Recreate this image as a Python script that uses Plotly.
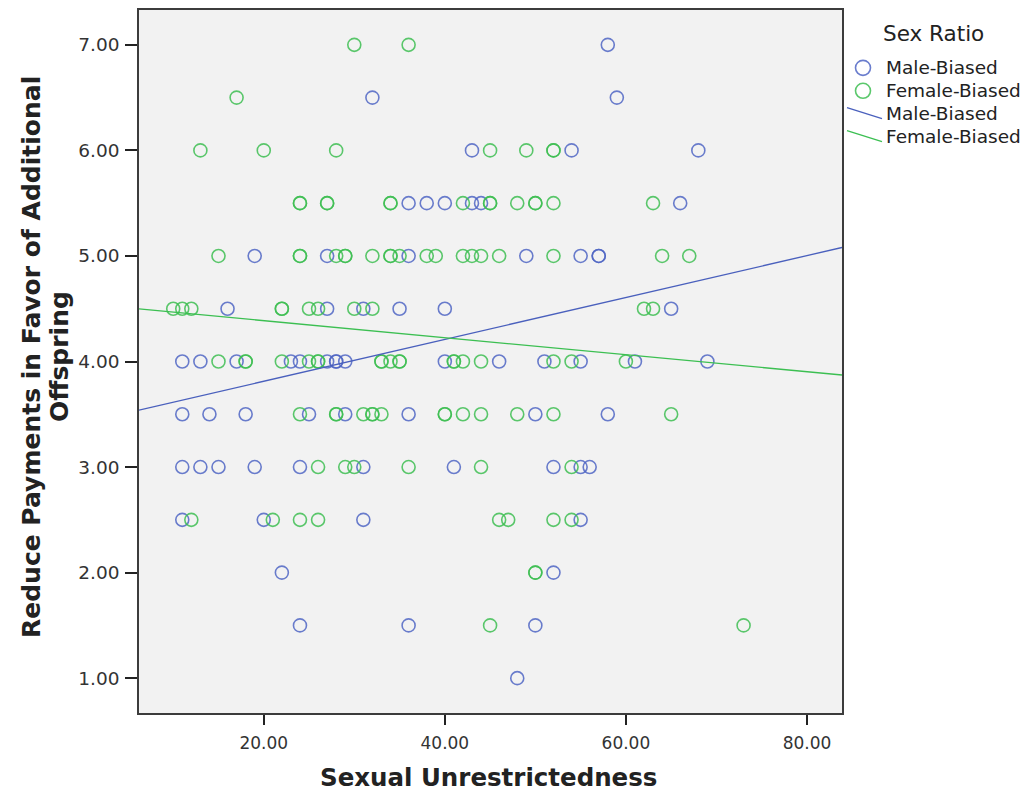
import plotly.graph_objects as go

# ---- data -------------------------------------------------------------
# Male-biased condition: (sexual unrestrictedness, reduce payments score)
male_x = [58,
          32, 59,
          43, 54, 68,
          36, 38, 40, 43, 44, 66,
          19, 27, 36, 49, 55, 57, 57,
          16, 27, 31, 35, 40, 65,
          11, 13, 17, 23, 24, 27, 28, 28, 29, 40, 46, 51, 55, 61, 69,
          11, 14, 18, 25, 29, 36, 50, 58,
          11, 13, 15, 19, 24, 31, 41, 52, 55, 56,
          11, 20, 31, 55,
          22, 52,
          24, 36, 50,
          48]
male_y = [7.0,
          6.5, 6.5,
          6.0, 6.0, 6.0,
          5.5, 5.5, 5.5, 5.5, 5.5, 5.5,
          5.0, 5.0, 5.0, 5.0, 5.0, 5.0, 5.0,
          4.5, 4.5, 4.5, 4.5, 4.5, 4.5,
          4.0, 4.0, 4.0, 4.0, 4.0, 4.0, 4.0, 4.0, 4.0, 4.0, 4.0, 4.0, 4.0, 4.0, 4.0,
          3.5, 3.5, 3.5, 3.5, 3.5, 3.5, 3.5, 3.5,
          3.0, 3.0, 3.0, 3.0, 3.0, 3.0, 3.0, 3.0, 3.0, 3.0,
          2.5, 2.5, 2.5, 2.5,
          2.0, 2.0,
          1.5, 1.5, 1.5,
          1.0]

# Female-biased condition
female_x = [30, 36,
            17,
            13, 20, 28, 45, 49, 52, 52,
            24, 24, 27, 27, 34, 34, 42, 45, 45, 48, 50, 50, 52, 63,
            15, 24, 24, 28, 29, 29, 32, 34, 34, 35, 38, 39, 42, 43, 44, 46, 52, 64, 67,
            10, 11, 12, 22, 22, 25, 26, 30, 32, 62, 63,
            15, 18, 18, 22, 25, 26, 26, 33, 33, 34, 35, 35, 41, 41, 42, 44, 52, 54, 60,
            24, 28, 28, 31, 32, 32, 33, 40, 40, 42, 44, 48, 52, 65,
            26, 29, 30, 36, 44, 54,
            12, 21, 24, 26, 46, 47, 52, 54,
            50, 50,
            45, 73]
female_y = [7.0, 7.0,
            6.5,
            6.0, 6.0, 6.0, 6.0, 6.0, 6.0, 6.0,
            5.5, 5.5, 5.5, 5.5, 5.5, 5.5, 5.5, 5.5, 5.5, 5.5, 5.5, 5.5, 5.5, 5.5,
            5.0, 5.0, 5.0, 5.0, 5.0, 5.0, 5.0, 5.0, 5.0, 5.0, 5.0, 5.0, 5.0, 5.0, 5.0, 5.0, 5.0, 5.0, 5.0,
            4.5, 4.5, 4.5, 4.5, 4.5, 4.5, 4.5, 4.5, 4.5, 4.5, 4.5,
            4.0, 4.0, 4.0, 4.0, 4.0, 4.0, 4.0, 4.0, 4.0, 4.0, 4.0, 4.0, 4.0, 4.0, 4.0, 4.0, 4.0, 4.0, 4.0,
            3.5, 3.5, 3.5, 3.5, 3.5, 3.5, 3.5, 3.5, 3.5, 3.5, 3.5, 3.5, 3.5, 3.5,
            3.0, 3.0, 3.0, 3.0, 3.0, 3.0,
            2.5, 2.5, 2.5, 2.5, 2.5, 2.5, 2.5, 2.5,
            2.0, 2.0,
            1.5, 1.5]

# Linear fit lines (intercept, slope) for each group
male_fit = (3.416, 0.01984)
female_fit = (4.548, -0.00806)

x_ticks = [20, 40, 60, 80]
y_ticks = [1, 2, 3, 4, 5, 6, 7]
group_names = ["Male-Biased", "Female-Biased"]
legend_title = "Sex Ratio"
x_title = "Sexual Unrestrictedness"
y_title_lines = ["Reduce Payments in Favor of Additional", "Offspring"]

# ---- styling ----------------------------------------------------------
W, H = 1029, 796
L, R, T, B = 139, 842, 8, 713          # plot area in pixels
X_RANGE = [6.22, 83.87]
Y_RANGE = [0.67, 7.33]

BLUE_PT = "rgba(80,102,196,0.85)"
GREEN_PT = "rgba(62,190,82,0.85)"
BLUE_LN = "#4a60bd"
GREEN_LN = "#3cbf52"
TEXT = "#222"


def px(xp, yp):
    """Pixel position -> paper coordinates."""
    return (xp - L) / (R - L), (B - yp) / (B - T)


fig = go.Figure()

for xs, ys, col, name in [(male_x, male_y, BLUE_PT, group_names[0]),
                          (female_x, female_y, GREEN_PT, group_names[1])]:
    fig.add_trace(go.Scatter(
        x=xs, y=ys, mode="markers", name=name, showlegend=False,
        marker=dict(symbol="circle-open", size=13,
                    line=dict(width=1.6, color=col), color=col),
    ))

for (a, b), col, name in [(male_fit, BLUE_LN, group_names[0]),
                          (female_fit, GREEN_LN, group_names[1])]:
    fig.add_trace(go.Scatter(
        x=X_RANGE, y=[a + b * X_RANGE[0], a + b * X_RANGE[1]],
        mode="lines", name=name, showlegend=False,
        line=dict(color=col, width=1.3),
    ))

axis_common = dict(
    showgrid=False, zeroline=False,
    showline=True, mirror=True, linecolor="#3c3c3c", linewidth=1.6,
    ticks="outside", tickwidth=1.5, tickcolor="#222",
)

fig.update_layout(
    width=W, height=H,
    margin=dict(l=L, r=W - R, t=T, b=H - B),
    paper_bgcolor="white", plot_bgcolor="#f2f2f2",
    showlegend=False,
    xaxis=dict(range=X_RANGE, tickvals=x_ticks,
               ticktext=[f"{v:.2f}" for v in x_ticks], ticklen=10,
               tickfont=dict(family="DejaVu Sans", size=17, color="#333"),
               ticklabelstandoff=4, **axis_common),
    yaxis=dict(range=Y_RANGE, tickvals=y_ticks,
               ticktext=[f"{v:.2f}" for v in y_ticks], ticklen=12,
               tickfont=dict(family="DejaVu Sans", size=18.5, color="#333"),
               ticklabelstandoff=2, **axis_common),
)

ann = []
# axis titles
x0, y0 = px(488, 778)
ann.append(dict(x=x0, y=y0, xref="paper", yref="paper", text=f"<b>{x_title}</b>",
                showarrow=False, xanchor="center", yanchor="middle",
                font=dict(family="DejaVu Sans", size=24.5, color=TEXT)))
for xp, line in zip([31, 59], y_title_lines):
    x0, y0 = px(xp, 356)
    ann.append(dict(x=x0, y=y0, xref="paper", yref="paper", text=f"<b>{line}</b>",
                    showarrow=False, xanchor="center", yanchor="middle", textangle=-90,
                    font=dict(family="DejaVu Sans", size=25, color=TEXT)))

# legend block
x0, y0 = px(881, 32)
ann.append(dict(x=x0, y=y0, xref="paper", yref="paper", text=legend_title,
                showarrow=False, xanchor="left", yanchor="middle",
                font=dict(family="DejaVu Sans", size=21.5, color=TEXT)))
rows = [66, 89, 112, 135]
labels = group_names + group_names
for yp, lab in zip(rows, labels):
    x0, y0 = px(884, yp)
    ann.append(dict(x=x0, y=y0, xref="paper", yref="paper", text=lab,
                    showarrow=False, xanchor="left", yanchor="middle",
                    font=dict(family="DejaVu Sans", size=18.5, color=TEXT)))

shapes = []
for yp, col in zip(rows[:2], [BLUE_PT, GREEN_PT]):
    cx, cy = px(863, yp)
    shapes.append(dict(type="circle", xref="paper", yref="paper",
                       xsizemode="pixel", ysizemode="pixel",
                       xanchor=cx, yanchor=cy, x0=-7.5, x1=7.5, y0=-7.5, y1=7.5,
                       line=dict(color=col, width=1.6)))
for yp, col in zip(rows[2:], [BLUE_LN, GREEN_LN]):
    xa, ya = px(847, yp - 6)
    xb, yb = px(882, yp + 5)
    shapes.append(dict(type="line", xref="paper", yref="paper",
                       x0=xa, y0=ya, x1=xb, y1=yb,
                       line=dict(color=col, width=1.3)))

fig.update_layout(annotations=ann, shapes=shapes)
fig.write_html("out.html")
